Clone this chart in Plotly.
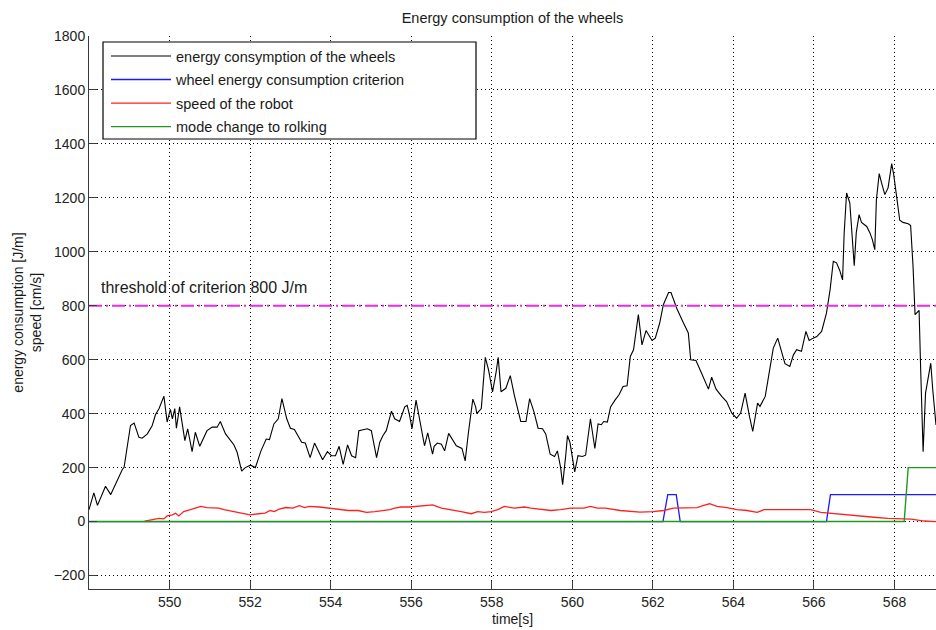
import plotly.graph_objects as go

# Wheel energy consumption per metre travelled [J/m]
energy_t = [
    548.00, 548.12, 548.21, 548.41, 548.54, 548.83, 548.87, 549.03, 549.12, 549.24,
    549.32, 549.45, 549.57, 549.65, 549.74, 549.86, 549.94, 550.02, 550.07, 550.13,
    550.17, 550.25, 550.38, 550.45, 550.56, 550.64, 550.75, 550.93, 551.06, 551.18,
    551.26, 551.39, 551.60, 551.68, 551.79, 551.88, 552.01, 552.13, 552.27, 552.40,
    552.48, 552.59, 552.70, 552.79, 552.91, 553.00, 553.10, 553.28, 553.37, 553.49,
    553.60, 553.71, 553.80, 553.92, 554.02, 554.12, 554.21, 554.31, 554.42, 554.52,
    554.62, 554.70, 554.81, 554.91, 555.01, 555.14, 555.22, 555.30, 555.38, 555.51,
    555.59, 555.71, 555.84, 555.90, 555.96, 556.02, 556.12, 556.21, 556.33, 556.41,
    556.53, 556.57, 556.65, 556.75, 556.83, 556.93, 557.12, 557.26, 557.34, 557.42,
    557.53, 557.60, 557.63, 557.74, 557.84, 557.92, 558.02, 558.11, 558.16, 558.23,
    558.35, 558.46, 558.56, 558.72, 558.85, 558.94, 559.05, 559.15, 559.26, 559.34,
    559.45, 559.56, 559.63, 559.71, 559.76, 559.84, 559.88, 559.94, 560.00, 560.06,
    560.14, 560.25, 560.33, 560.39, 560.45, 560.56, 560.64, 560.72, 560.78, 560.87,
    560.95, 561.06, 561.16, 561.26, 561.36, 561.44, 561.52, 561.64, 561.73, 561.83,
    561.98, 562.06, 562.17, 562.26, 562.39, 562.45, 562.60, 562.76, 562.88, 562.94,
    563.07, 563.21, 563.38, 563.46, 563.57, 563.71, 563.83, 563.96, 564.08, 564.18,
    564.29, 564.40, 564.48, 564.60, 564.66, 564.79, 564.87, 564.99, 565.10, 565.20,
    565.28, 565.40, 565.49, 565.57, 565.69, 565.80, 565.88, 565.98, 566.07, 566.19,
    566.31, 566.40, 566.48, 566.56, 566.64, 566.71, 566.75, 566.81, 566.89, 567.00,
    567.05, 567.12, 567.18, 567.31, 567.39, 567.45, 567.51, 567.55, 567.62, 567.68,
    567.76, 567.84, 567.93, 567.98, 568.05, 568.13, 568.21, 568.34, 568.40, 568.46,
    568.51, 568.61, 568.65, 568.71, 568.77, 568.84, 568.90, 568.95, 569.03,
]
energy_v = [
    44, 106, 60, 131, 100, 194, 200, 356, 365, 312,
    309, 325, 356, 396, 419, 465, 369, 416, 381, 419,
    346, 425, 300, 344, 259, 331, 279, 337, 350, 350,
    371, 325, 284, 256, 187, 200, 209, 200, 262, 306,
    304, 362, 381, 456, 381, 346, 341, 294, 291, 237,
    291, 256, 229, 259, 244, 244, 279, 212, 284, 244,
    237, 337, 341, 344, 337, 237, 294, 319, 337, 409,
    381, 371, 425, 431, 394, 344, 450, 381, 281, 329,
    250, 279, 291, 287, 262, 327, 281, 271, 225, 329,
    454, 425, 400, 419, 609, 562, 481, 556, 609, 481,
    494, 541, 469, 371, 371, 456, 406, 346, 344, 325,
    250, 241, 262, 200, 137, 250, 319, 294, 244, 184,
    244, 241, 246, 309, 381, 271, 362, 359, 371, 369,
    425, 450, 470, 501, 503, 612, 637, 767, 655, 708,
    671, 680, 736, 804, 849, 849, 788, 736, 699, 600,
    597, 550, 491, 535, 491, 464, 445, 402, 383, 402,
    476, 389, 334, 439, 427, 464, 538, 643, 680, 624,
    585, 575, 618, 637, 631, 705, 671, 680, 686, 705,
    773, 859, 965, 959, 931, 896, 1070, 1218, 1181, 948,
    1070, 1138, 1109, 1094, 1070, 1045, 1008, 1193, 1290, 1255,
    1212, 1237, 1327, 1286, 1206, 1117, 1109, 1104, 1097, 946,
    767, 783, 562, 259, 476, 538, 587, 488, 358,
]

# Criterion flag (0 / 100)
criterion_t = [548.00, 562.25, 562.37, 562.58, 562.68, 566.31, 566.41, 569.03]
criterion_v = [0, 0, 100, 100, 0, 0, 100, 100]

# Robot speed [cm/s]
speed_t = [
    549.38, 549.57, 549.74, 549.86, 549.94, 550.07, 550.15, 550.23, 550.35, 550.52,
    550.64, 550.77, 550.93, 551.22, 551.35, 551.60, 551.80, 552.00, 552.20, 552.37,
    552.50, 552.60, 552.72, 552.89, 553.06, 553.22, 553.35, 553.47, 553.72, 553.94,
    554.19, 554.44, 554.68, 554.89, 555.10, 555.26, 555.47, 555.59, 555.75, 555.96,
    556.16, 556.41, 556.53, 556.75, 557.00, 557.24, 557.49, 557.65, 557.82, 557.98,
    558.15, 558.31, 558.56, 558.81, 558.97, 559.22, 559.47, 559.71, 559.96, 560.29,
    560.45, 560.62, 560.82, 561.19, 561.44, 561.68, 562.00, 562.27, 562.51, 562.85,
    563.10, 563.26, 563.41, 563.59, 563.84, 564.09, 564.34, 564.59, 564.76, 565.00,
    565.33, 565.67, 565.92, 566.17, 566.50, 566.83, 567.16, 567.49, 567.83, 568.07,
    568.41, 568.74, 569.03,
]
speed_v = [
    2, 6, 12, 10, 21, 25, 31, 21, 37, 44,
    50, 56, 52, 50, 44, 37, 31, 25, 29, 31,
    41, 37, 46, 52, 50, 59, 52, 56, 54, 50,
    44, 41, 41, 34, 37, 41, 44, 50, 54, 54,
    56, 59, 62, 50, 44, 37, 29, 37, 34, 37,
    44, 56, 50, 54, 50, 46, 41, 44, 50, 50,
    56, 50, 50, 41, 37, 35, 37, 41, 50, 52,
    52, 60, 66, 56, 52, 44, 41, 34, 44, 44,
    44, 44, 44, 34, 29, 25, 21, 16, 12, 10,
    9, 2, 0,
]

# Mode change flag (0 / 200)
mode_t = [548.00, 568.24, 568.34, 569.03]
mode_v = [0, 0, 200, 200]

threshold_value = 800
x_range = [548.0, 569.03]
y_range = [-250, 1800]
x_ticks = list(range(550, 569, 2))
y_ticks = list(range(-200, 1801, 200))

FONT = "Liberation Sans, Arial, sans-serif"
FS = 14.5
TICK_FS = 14
TEXT_COLOR = "#1a1a1a"

# Plot area in pixels (left, top, width, height) for paper-coordinate conversions
PL, PT, PW, PH = 89, 36, 847, 553


def px_x(px):
    return (px - PL) / PW


def px_y(py):
    return (PT + PH - py) / PH


fig = go.Figure()

series = [
    (energy_t, energy_v, "energy consymption of the wheels", "#000000", 1.1),
    (criterion_t, criterion_v, "wheel energy consumption criterion", "#1a1aff", 1.3),
    (speed_t, speed_v, "speed of the robot", "#ff2020", 1.3),
    (mode_t, mode_v, "mode change to rolking", "#1f9a1f", 1.4),
]
for i, (t, v, name, color, lw) in enumerate(series):
    fig.add_trace(go.Scatter(
        x=t, y=v, mode="lines", name=name, legendgroup=f"g{i}",
        line=dict(color=color, width=lw),
    ))

# Criterion threshold
fig.add_trace(go.Scatter(
    x=x_range, y=[threshold_value, threshold_value], mode="lines",
    showlegend=False, hoverinfo="skip",
    line=dict(color="#e82ce8", width=2, dash="13px,4px,2px,4px"),
))

fig.add_annotation(
    x=548.24, y=866, xref="x", yref="y", xanchor="left", yanchor="middle",
    text=f"threshold of criterion {threshold_value} J/m", showarrow=False,
    font=dict(family=FONT, size=16, color=TEXT_COLOR),
)

# Legend frame (opaque, covers the grid behind the entries)
fig.add_shape(
    type="rect", xref="paper", yref="paper", layer="above",
    x0=px_x(103), x1=px_x(476), y0=px_y(139), y1=px_y(42),
    fillcolor="white", line=dict(color="#000000", width=1.2),
)

axis_common = dict(
    showgrid=True, gridcolor="#000000", gridwidth=1, griddash="1px,3px",
    showline=True, linecolor="#3a3a3a", linewidth=1,
    ticks="inside", ticklen=8, tickcolor="#3a3a3a", tickwidth=1,
    zeroline=False, tickfont=dict(family=FONT, size=TICK_FS, color="#222222"),
)

fig.update_layout(
    width=936, height=630,
    margin=dict(l=PL, r=0, t=PT, b=630 - PT - PH),
    paper_bgcolor="white", plot_bgcolor="white",
    font=dict(family=FONT, size=FS, color=TEXT_COLOR),
    title=dict(text="Energy consumption of the wheels", x=0.5, xref="paper",
               y=1 - 18 / 630, yanchor="middle",
               font=dict(family=FONT, size=FS, color=TEXT_COLOR)),
    xaxis=dict(range=x_range, tickvals=x_ticks,
               title=dict(text="time[s]", standoff=5,
                          font=dict(family=FONT, size=14, color=TEXT_COLOR)),
               **axis_common),
    yaxis=dict(range=y_range, tickvals=y_ticks,
               title=dict(text="energy consumption [J/m]<br>speed [cm/s]", standoff=8,
                          font=dict(family=FONT, size=14, color=TEXT_COLOR)),
               **axis_common),
    legend=dict(
        x=px_x(106), y=px_y(40), xanchor="left", yanchor="top",
        bgcolor="rgba(0,0,0,0)", borderwidth=0,
        tracegroupgap=1.7, itemwidth=60,
        font=dict(family=FONT, size=FS, color=TEXT_COLOR),
    ),
    showlegend=True,
)

fig.write_html("out.html")
